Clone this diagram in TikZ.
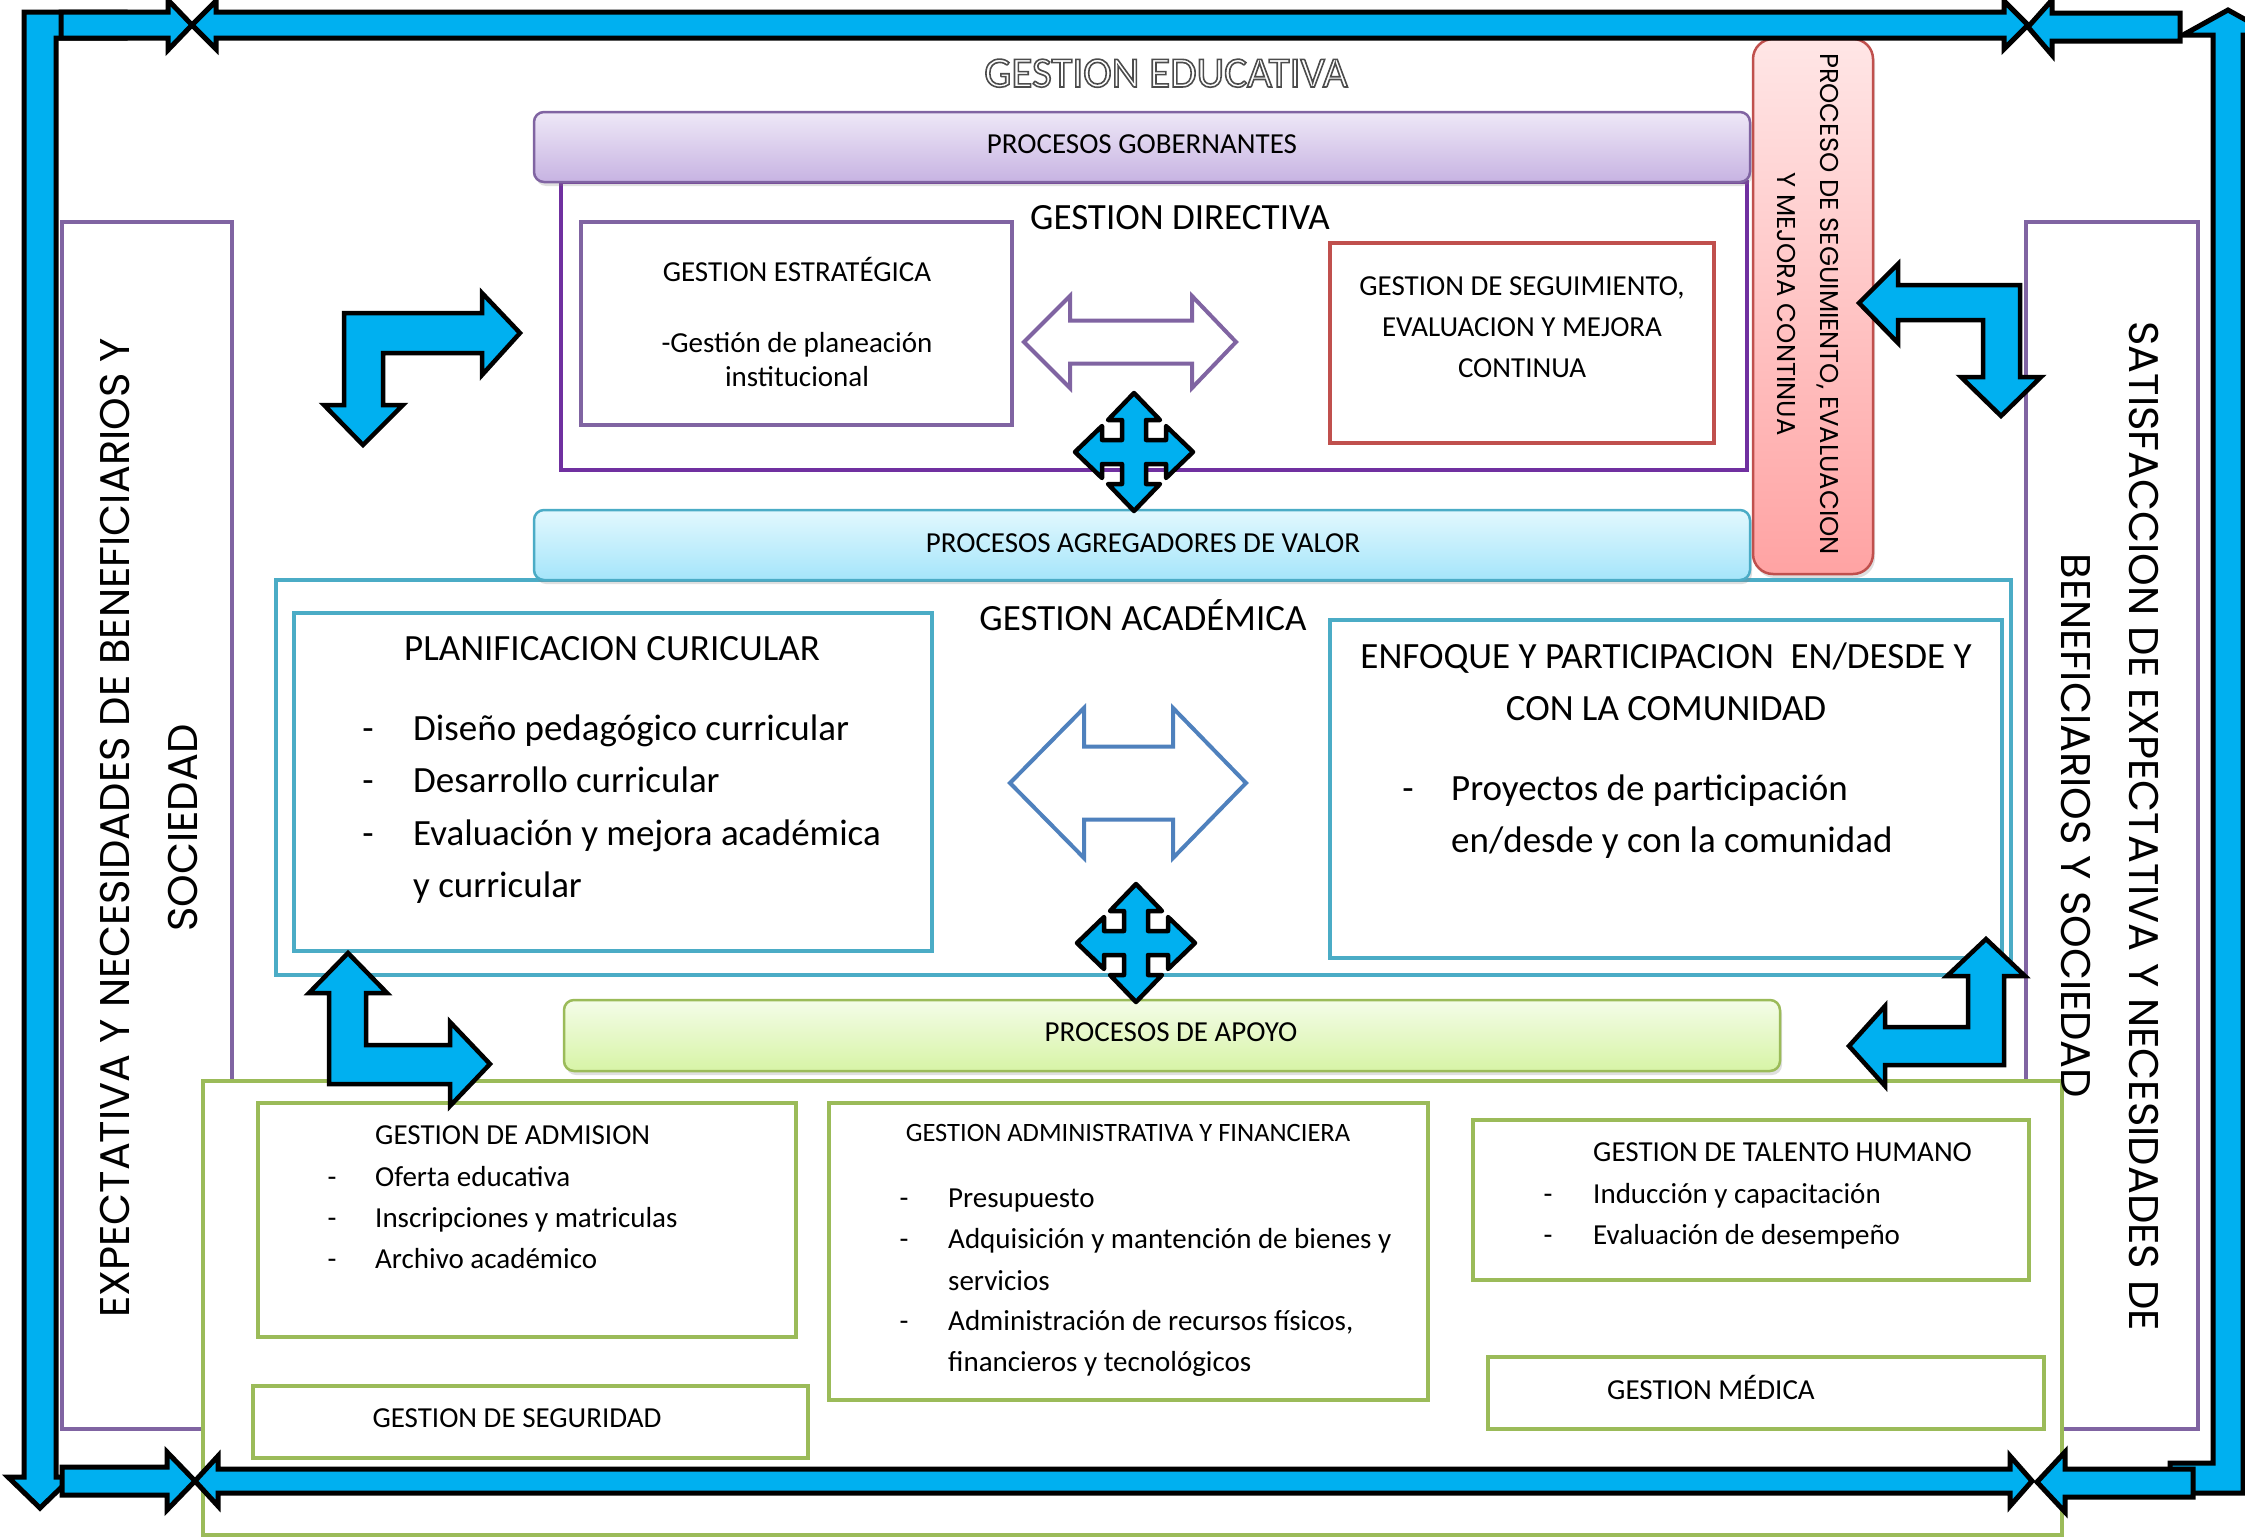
\documentclass[tikz,border=0pt]{standalone}
\usepackage{fontspec}
\setmainfont{Carlito}
\newfontfamily\gothic{Poppins}
\usetikzlibrary{shadows}

\definecolor{frameblue}{HTML}{00B0F0}
\definecolor{boxpurple}{HTML}{8064A2}
\definecolor{dirpurple}{HTML}{7030A0}
\definecolor{boxred}{HTML}{C0504D}
\definecolor{boxteal}{HTML}{4BACC6}
\definecolor{boxgreen}{HTML}{9BBB59}
\definecolor{hollowblue}{HTML}{4F81BD}
\definecolor{gobtop}{HTML}{EEE8F7}
\definecolor{gobbot}{HTML}{C7B3E2}
\definecolor{agrtop}{HTML}{E2F8FE}
\definecolor{agrbot}{HTML}{A5E5FA}
\definecolor{apotop}{HTML}{F4FCE8}
\definecolor{apobot}{HTML}{D7F4A6}
\definecolor{pinktop}{HTML}{FFE6E6}
\definecolor{pinkbot}{HTML}{FFA3A3}

% outlined letters
\newcommand{\outlined}[1]{\special{pdf:literal direct 1 Tr 1.6 w 0.3 G}#1\special{pdf:literal direct 0 Tr}}

% four-way arrow, centred on #1
\newcommand{\crossarrow}[1]{%
  \draw[blockarrow, line join=round, shift={#1}] (0,-59) -- (26,-32) -- (12,-32) -- (12,-12) -- (32,-12) -- (32,-26)
    -- (59,0) -- (32,26) -- (32,12) -- (12,12) -- (12,32) -- (26,32) -- (0,59) -- (-26,32) -- (-12,32)
    -- (-12,12) -- (-32,12) -- (-32,26) -- (-59,0) -- (-32,-26) -- (-32,-12) -- (-12,-12) -- (-12,-32)
    -- (-26,-32) -- cycle;}

\begin{document}
\begin{tikzpicture}[x=1pt, y=-1pt,
    panel/.style={draw=#1, line width=4.5pt, fill=white, inner sep=0pt},
    dims/.style 2 args={minimum width=#1pt, minimum height=#2pt},
    banner/.style n args={3}{draw=#1, line width=2.5pt, rounded corners=10pt, top color=#2, bottom color=#3,
      inner sep=0pt, drop shadow={shadow xshift=2pt, shadow yshift=-4pt, opacity=0.25}},
    framearrow/.style={fill=frameblue, draw=black, line width=5pt, line join=miter},
    blockarrow/.style={fill=frameblue, draw=black, line width=4.5pt, line join=miter},
    hollow/.style={draw=#1, fill=white, line width=4pt, line join=miter},
    lbl/.style={inner sep=0pt, font=\fontsize{29}{41}\selectfont},
    sml/.style={inner sep=0pt, font=\fontsize{26.5}{38}\selectfont},
    big/.style={inner sep=0pt, font=\fontsize{37}{52}\selectfont},
    side/.style={inner sep=0pt, align=center, font=\gothic\fontsize{41.5}{68}\selectfont}]
  \useasboundingbox (0,0) rectangle (2245,1539);

  % side panels
  \node[panel=boxpurple, dims={170}{1207}] (expect) at (147,825.5) {};
  \node[panel=boxpurple, dims={172}{1207}] (satisf) at (2112,825.5) {};

  % gestion directiva
  \node[panel=dirpurple, line width=4pt, dims={1186}{288}] (directiva) at (1154,326) {};
  \node[panel=boxpurple, dims={431}{203}] (estrategica) at (796.5,323.5) {};
  \node[panel=boxred, dims={384}{200}] (seguimiento) at (1522,343) {};
  \node[banner={boxpurple}{gobtop}{gobbot}, dims={1216}{70}] (gobernantes) at (1142,147) {};

  % gestion academica
  \node[panel=boxteal, line width=4pt, dims={1735}{395}] (academica) at (1143.5,777.5) {};
  \node[panel=boxteal, dims={638}{338}] (planif) at (613,782) {};
  \node[panel=boxteal, dims={672}{338}] (enfoque) at (1666,789) {};
  \node[banner={boxteal}{agrtop}{agrbot}, dims={1216}{70}] (agregadores) at (1142,545) {};

  \node[banner={boxred}{pinktop}{pinkbot}, rounded corners=20pt, dims={120}{535}] (mejora) at (1813,306.5) {};

  % procesos de apoyo
  \node[panel=boxgreen, line width=4pt, dims={1859}{454}] (soporte) at (1132.5,1308) {};
  \node[panel=boxgreen, dims={538}{234}] (admision) at (527,1220) {};
  \node[panel=boxgreen, dims={555}{72}] (seguridad) at (530.5,1422) {};
  \node[panel=boxgreen, dims={599}{297}] (administrativa) at (1128.5,1251.5) {};
  \node[panel=boxgreen, dims={556}{160}] (talento) at (1751,1200) {};
  \node[panel=boxgreen, dims={556}{72}] (medica) at (1766,1393) {};
  \node[banner={boxgreen}{apotop}{apobot}, dims={1216}{71}] (apoyo) at (1172,1035.5) {};

  % hollow double arrows
  \draw[hollow=boxpurple] (1024,342) -- (1070,296) -- (1070,320.5) -- (1192,320.5) -- (1192,296) -- (1236,342)
    -- (1192,388) -- (1192,363.5) -- (1070,363.5) -- (1070,388) -- cycle;
  \draw[hollow=hollowblue] (1010,783) -- (1084,708) -- (1084,746.5) -- (1173,746.5) -- (1173,708) -- (1246,783)
    -- (1173,858) -- (1173,819.5) -- (1084,819.5) -- (1084,858) -- cycle;

  \crossarrow{(1134,452)}
  \crossarrow{(1136,943)}

  % bent arrows
  \draw[blockarrow] (344,313) -- (482,313) -- (482,293) -- (520,333) -- (482,375) -- (482,353) -- (383,353)
    -- (383,405) -- (403,405) -- (363,445) -- (324,405) -- (344,405) -- cycle;
  \draw[blockarrow] (2020,285) -- (1898,285) -- (1898,264) -- (1859,303) -- (1898,343) -- (1898,320) -- (1983,320)
    -- (1983,377) -- (1961,377) -- (2001,416) -- (2041,377) -- (2020,377) -- cycle;
  \draw[blockarrow] (329,1084) -- (329,993) -- (309,993) -- (348,953) -- (387,993) -- (366,993) -- (366,1045)
    -- (450,1045) -- (450,1022) -- (490,1064) -- (450,1106) -- (450,1084) -- cycle;
  \draw[blockarrow] (2004,1065) -- (2004,976) -- (2025,976) -- (1986,939) -- (1947,976) -- (1968,976) -- (1968,1027)
    -- (1885,1027) -- (1885,1006) -- (1849,1046) -- (1885,1086) -- (1885,1065) -- cycle;

  % outer frame
  \draw[framearrow] (125,12) -- (24,12) -- (24,1477) -- (8,1477) -- (40,1508) -- (72,1477) -- (56,1477) -- (56,38)
    -- (125,38) -- cycle;
  \draw[framearrow] (2170,1493) -- (2243,1493) -- (2243,35) -- (2273,35) -- (2228,10) -- (2183,35) -- (2213,35)
    -- (2213,1463) -- (2170,1463) -- cycle;
  \draw[framearrow] (61,12) -- (168,12) -- (168,0) -- (192,25) -- (168,50) -- (168,38) -- (61,38) -- cycle;
  \draw[framearrow] (192,25) -- (216,1) -- (216,12) -- (2004,12) -- (2004,1) -- (2028,25) -- (2004,49) -- (2004,38)
    -- (216,38) -- (216,49) -- cycle;
  \draw[framearrow] (2028,27) -- (2052,0) -- (2052,13) -- (2180,13) -- (2180,41) -- (2052,41) -- (2052,55) -- cycle;
  \draw[framearrow] (62,1467) -- (167,1467) -- (167,1452) -- (195,1481) -- (167,1510) -- (167,1495) -- (62,1495) -- cycle;
  \draw[framearrow] (195,1481) -- (218,1456) -- (218,1469) -- (2010,1469) -- (2010,1456) -- (2032,1481) -- (2010,1506)
    -- (2010,1493) -- (218,1493) -- (218,1506) -- cycle;
  \draw[framearrow] (2037,1482) -- (2065,1452) -- (2065,1469) -- (2193,1469) -- (2193,1497) -- (2065,1497) -- (2065,1512) -- cycle;

  % texts
  \node[inner sep=0pt, anchor=base, font=\fontsize{43}{50}\selectfont] (educativa) at (1166,87)
    {\outlined{GESTION EDUCATIVA}};
  \node[lbl, anchor=base] (gobtxt) at (1142,153) {PROCESOS GOBERNANTES};
  \node[big, anchor=base] (dirtxt) at (1180,229) {GESTION DIRECTIVA};
  \node[lbl, anchor=base] (est1) at (797,281) {GESTION ESTRATÉGICA};
  \node[lbl, anchor=base] (est2) at (797,352) {-Gestión de planeación};
  \node[lbl, anchor=base] (est3) at (797,386) {institucional};
  \node[lbl, anchor=base] (seg1) at (1522,295) {GESTION DE SEGUIMIENTO,};
  \node[lbl, anchor=base] (seg2) at (1522,336) {EVALUACION Y MEJORA};
  \node[lbl, anchor=base] (seg3) at (1522,377) {CONTINUA};
  \node[lbl, anchor=base] (agrtxt) at (1143,552) {PROCESOS AGREGADORES DE VALOR};
  \node[side, rotate=-90, font=\gothic\fontsize{25.8}{43}\selectfont] (mejoratxt) at (1808,304)
    {PROCESO DE SEGUIMIENTO, EVALUACION\\Y MEJORA CONTINUA};

  \node[big, anchor=base] (acadtxt) at (1143,630) {GESTION ACADÉMICA};
  \node[big, anchor=base] (plan0) at (612,660) {PLANIFICACION CURICULAR};
  \node[big, anchor=base] (dash1) at (368,740) {-};
  \node[big, anchor=base west] (plan1) at (413,740) {Diseño pedagógico curricular};
  \node[big, anchor=base] (dash2) at (368,792) {-};
  \node[big, anchor=base west] (plan2) at (413,792) {Desarrollo curricular};
  \node[big, anchor=base] (dash3) at (368,845) {-};
  \node[big, anchor=base west] (plan3) at (413,845) {Evaluación y mejora académica};
  \node[big, anchor=base west] (plan4) at (413,897) {y curricular};
  \node[big, anchor=base] (enf1) at (1666,668) {ENFOQUE Y PARTICIPACION\ \ EN/DESDE Y};
  \node[big, anchor=base] (enf2) at (1666,720) {CON LA COMUNIDAD};
  \node[big, anchor=base] (dash4) at (1408,800) {-};
  \node[big, anchor=base west] (enf3) at (1451,800) {Proyectos de participación};
  \node[big, anchor=base west] (enf4) at (1451,852) {en/desde y con la comunidad};

  \node[lbl, anchor=base] (apoyotxt) at (1171,1041) {PROCESOS DE APOYO};
  \node[lbl, anchor=base west] (adm0) at (375,1144) {GESTION DE ADMISION};
  \node[lbl, anchor=base] (dash5) at (332,1186) {-};
  \node[lbl, anchor=base west] (adm1) at (375,1186) {Oferta educativa};
  \node[lbl, anchor=base] (dash6) at (332,1227) {-};
  \node[lbl, anchor=base west] (adm2) at (375,1227) {Inscripciones y matriculas};
  \node[lbl, anchor=base] (dash7) at (332,1268) {-};
  \node[lbl, anchor=base west] (adm3) at (375,1268) {Archivo académico};
  \node[lbl, anchor=base] (segtxt) at (517,1427) {GESTION DE SEGURIDAD};
  \node[sml, anchor=base] (fin0) at (1128,1141) {GESTION ADMINISTRATIVA Y FINANCIERA};
  \node[lbl, anchor=base] (dash8) at (904,1207) {-};
  \node[lbl, anchor=base west] (fin1) at (948,1207) {Presupuesto};
  \node[lbl, anchor=base] (dash9) at (904,1248) {-};
  \node[lbl, anchor=base west] (fin2) at (948,1248) {Adquisición y mantención de bienes y};
  \node[lbl, anchor=base west] (fin3) at (948,1290) {servicios};
  \node[lbl, anchor=base] (dash10) at (904,1330) {-};
  \node[lbl, anchor=base west] (fin4) at (948,1330) {Administración de recursos físicos,};
  \node[lbl, anchor=base west] (fin5) at (948,1371) {financieros y tecnológicos};
  \node[lbl, anchor=base west] (tal0) at (1593,1161) {GESTION DE TALENTO HUMANO};
  \node[lbl, anchor=base] (dash11) at (1548,1203) {-};
  \node[lbl, anchor=base west] (tal1) at (1593,1203) {Inducción y capacitación};
  \node[lbl, anchor=base] (dash12) at (1548,1244) {-};
  \node[lbl, anchor=base west] (tal2) at (1593,1244) {Evaluación de desempeño};
  \node[lbl, anchor=base] (medtxt) at (1711,1399) {GESTION MÉDICA};

  \node[side, rotate=90] (expecttxt) at (149,828)
    {EXPECTATIVA Y NECESIDADES DE BENEFICIARIOS Y\\SOCIEDAD};
  \node[side, rotate=-90] (satisftxt) at (2110,826)
    {SATISFACCION DE EXPECTATIVA Y NECESIDADES DE\\BENEFICIARIOS Y SOCIEDAD};
\end{tikzpicture}
\end{document}
